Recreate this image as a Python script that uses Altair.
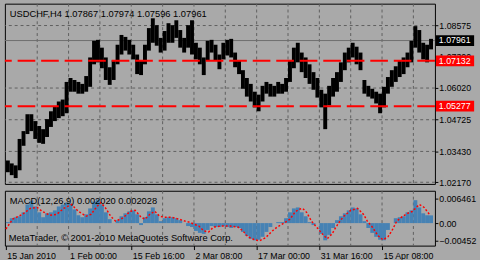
import altair as alt
import pandas as pd

BG = "#A9A9A9"
FONT = "Liberation Sans"
GRID = "#5E5E5E"

# ---- price data (4-bar groups of the H4 chart: high / low) ----
bin_width = 4
price_high = [1.0306, 1.0294, 1.0286, 1.0394, 1.0426, 1.0495, 1.0495, 1.0467, 1.0447, 1.0434,
              1.0475, 1.0507, 1.0527, 1.0547, 1.0555, 1.0627, 1.0643, 1.0635, 1.0627, 1.0619,
              1.0651, 1.0727, 1.0795, 1.0799, 1.0767, 1.0727, 1.0687, 1.0715, 1.0779, 1.0819,
              1.0811, 1.0799, 1.0779, 1.0739, 1.0715, 1.0779, 1.0847, 1.0887, 1.0859, 1.0807,
              1.0835, 1.0867, 1.0859, 1.0879, 1.0839, 1.0807, 1.0859, 1.0879, 1.0787, 1.0767,
              1.0727, 1.0795, 1.0799, 1.0779, 1.0739, 1.0787, 1.0799, 1.0803, 1.0747, 1.0715,
              1.0675, 1.0643, 1.0619, 1.0587, 1.0575, 1.0611, 1.0627, 1.0619, 1.0611, 1.0627,
              1.0619, 1.0643, 1.0715, 1.0767, 1.0787, 1.0747, 1.0727, 1.0699, 1.0667, 1.0643,
              1.0595, 1.0579, 1.0611, 1.0643, 1.0667, 1.0707, 1.0747, 1.0767, 1.0787, 1.0771,
              1.0747, 1.0635, 1.0611, 1.0599, 1.0587, 1.0579, 1.0607, 1.0647, 1.0675, 1.0691,
              1.0715, 1.0727, 1.0747, 1.0795, 1.0855, 1.0839, 1.0787, 1.0779, 1.0803]
price_low = [1.0258, 1.0246, 1.0234, 1.0266, 1.0366, 1.0414, 1.0426, 1.0394, 1.0378, 1.0374,
             1.0402, 1.0443, 1.0467, 1.0479, 1.0487, 1.0499, 1.0587, 1.0587, 1.0579, 1.0579,
             1.0587, 1.0607, 1.0699, 1.0707, 1.0683, 1.0635, 1.0615, 1.0635, 1.0699, 1.0739,
             1.0755, 1.0739, 1.0719, 1.0659, 1.0655, 1.0699, 1.0755, 1.0787, 1.0775, 1.0747,
             1.0755, 1.0787, 1.0787, 1.0807, 1.0767, 1.0747, 1.0767, 1.0739, 1.0719, 1.0699,
             1.0655, 1.0715, 1.0747, 1.0715, 1.0679, 1.0719, 1.0735, 1.0727, 1.0687, 1.0659,
             1.0599, 1.0567, 1.0547, 1.0523, 1.0507, 1.0547, 1.0579, 1.0567, 1.0567, 1.0579,
             1.0579, 1.0587, 1.0627, 1.0683, 1.0707, 1.0667, 1.0643, 1.0619, 1.0595, 1.0563,
             1.0523, 1.0434, 1.0531, 1.0567, 1.0587, 1.0627, 1.0675, 1.0707, 1.0727, 1.0699,
             1.0675, 1.0579, 1.0567, 1.0559, 1.0539, 1.0499, 1.0523, 1.0579, 1.0607, 1.0627,
             1.0647, 1.0659, 1.0687, 1.0707, 1.0767, 1.0747, 1.0719, 1.0707, 1.0760]

# ---- MACD(12,26,9) histogram per group ----
macd_hist = [0.00026, 0.00128, 0.00154, 0.00179, 0.00282, 0.00487, 0.00590, 0.00436, 0.00282, 0.00154,
             0.00256, 0.00282, 0.00333, 0.00436, 0.00487, 0.00538, 0.00513, 0.00359, 0.00205, 0.00154,
             0.00231, 0.00385, 0.00564, 0.00615, 0.00487, 0.00282, 0.00103, 0.00000, 0.00077, 0.00179,
             0.00256, 0.00308, 0.00333, 0.00231, -0.00051, 0.00154, 0.00308, 0.00410, 0.00231, 0.00051,
             0.00128, 0.00154, 0.00154, 0.00128, 0.00077, 0.00000, -0.00077, -0.00103, -0.00205, -0.00256,
             -0.00282, -0.00179, -0.00077, -0.00103, -0.00103, -0.00077, -0.00103, -0.00128, -0.00103, -0.00128,
             -0.00231, -0.00333, -0.00410, -0.00452, -0.00436, -0.00359, -0.00231, -0.00103, 0.00000, 0.00026,
             0.00026, 0.00128, 0.00282, 0.00385, 0.00410, 0.00282, 0.00179, 0.00026, -0.00051, 0.00000,
             -0.00282, -0.00450, -0.00308, -0.00128, 0.00077, 0.00179, 0.00256, 0.00333, 0.00410, 0.00385,
             0.00231, 0.00051, -0.00128, -0.00256, -0.00359, -0.00436, -0.00450, -0.00179, 0.00000, 0.00128,
             0.00154, 0.00179, 0.00282, 0.00333, 0.00600, 0.00410, 0.00256, 0.00205, 0.00202]
signal_bar = [0, 7, 17, 25, 32, 37, 45, 52, 59, 67, 74, 82, 87, 93, 97, 102, 107, 112, 119, 127,
              132, 138, 142, 147, 152, 157, 162, 169, 177, 183, 187, 192, 197, 202, 207, 212, 219, 229, 237, 242,
              247, 254, 259, 265, 272, 277, 284, 290, 295, 299, 303, 307, 312, 318, 323, 328, 333, 337, 341, 345,
              352, 359, 365, 369, 374, 380, 385, 390, 394, 399, 405, 410, 415, 422, 427, 433]
signal_value = [-0.00154, 0.00103, 0.00231, 0.00385, 0.00410, 0.00308, 0.00205, 0.00231, 0.00385, 0.00487,
                0.00308, 0.00179, 0.00231, 0.00436, 0.00538, 0.00385, 0.00179, 0.00051, 0.00128, 0.00308,
                0.00333, 0.00154, 0.00103, 0.00231, 0.00308, 0.00179, 0.00154, 0.00154, 0.00103, 0.00051,
                0.00026, -0.00026, -0.00077, -0.00205, -0.00231, -0.00103, -0.00077, -0.00077, -0.00103, -0.00205,
                -0.00359, -0.00436, -0.00462, -0.00385, -0.00205, -0.00103, 0.00000, 0.00103, 0.00282, 0.00359,
                0.00385, 0.00282, 0.00051, -0.00128, -0.00282, -0.00410, -0.00282, -0.00103, 0.00051, 0.00179,
                0.00333, 0.00385, 0.00231, 0.00051, -0.00103, -0.00333, -0.00436, -0.00359, -0.00205, 0.00051,
                0.00179, 0.00256, 0.00308, 0.00487, 0.00410, 0.00205]

price_ticks = [1.08575, 1.07300, 1.06020, 1.04725, 1.03430, 1.02170]
grid_prices = [1.08575, 1.06020, 1.04725, 1.03430, 1.02170]
red_levels = [1.07132, 1.05277]
bid_price = [1.07961]
macd_ticks = [0.006461, 0.0, -0.00452]
time_ticks = [0, 64, 128, 192, 256, 320, 384]
time_labels = ["15 Jan 2010", "1 Feb 00:00", "15 Feb 16:00", "2 Mar 08:00",
               "17 Mar 00:00", "31 Mar 16:00", "15 Apr 08:00"]
grid_bars = [32, 64, 96, 128, 160, 192, 224, 256, 288, 320, 352, 384, 416]
header = "USDCHF,H4  1.07867 1.07974 1.07596 1.07961"
macd_header = "MACD(12,26,9) 0.002020 0.002028"
copyright_text = "MetaTrader, \u00a9 2001-2010 MetaQuotes Software Corp."

bars = pd.DataFrame({
    "start": [bin_width * k for k in range(len(price_high))],
    "high": price_high,
    "low": price_low,
})
bars["end"] = bars["start"] + bin_width
hist = pd.DataFrame({"start": bars["start"], "end": bars["end"], "macd": macd_hist, "zero": 0.0})
sig = pd.DataFrame({"bar": signal_bar, "signal": signal_value})
vgrid = pd.DataFrame({"bar": grid_bars})
hgrid = pd.DataFrame({"price": grid_prices})
reds = pd.DataFrame({"price": red_levels, "label": [f"{v:.5f}" for v in red_levels]})
bid = pd.DataFrame({"price": bid_price, "label": [f"{v:.5f}" for v in bid_price]})

W = 439
H_MAIN = 184
H_MACD = 56
xscale = alt.Scale(domain=[-1, 438], nice=False, zero=False)
yscale = alt.Scale(domain=[1.02102, 1.09468], nice=False, zero=False)
mscale = alt.Scale(domain=[-0.005897, 0.008462], nice=False, zero=False)

label_map = "{" + ",".join(f"'{t}':'{l}'" for t, l in zip(time_ticks, time_labels)) + "}"

price_axis = alt.Axis(orient="right", values=price_ticks, format=".5f", grid=False, domain=False,
                      ticks=True, tickSize=3, tickColor="black", labelColor="black",
                      labelFont=FONT, labelFontSize=9, labelPadding=1, title=None)
time_axis = alt.Axis(orient="bottom", values=time_ticks, labelExpr=label_map + "[datum.value]",
                     grid=False, domain=False, ticks=True, tickSize=4, tickColor="black",
                     labelColor="black", labelFont=FONT, labelFontSize=9, labelAlign="left",
                     labelOffset=1, labelPadding=2, labelBaseline="top", title=None)
macd_axis = alt.Axis(orient="right", values=macd_ticks,
                     labelExpr="datum.value == 0 ? '0.00' : (datum.value > 0 ? format(datum.value, '.6f') : format(datum.value, '.5f'))",
                     grid=False, domain=False, ticks=True, tickSize=3, tickColor="black",
                     labelColor="black", labelFont=FONT, labelFontSize=9, labelPadding=1, title=None)

# ---------------- main price panel ----------------
vg_main = alt.Chart(vgrid).mark_rule(color=GRID, strokeDash=[3, 3], strokeWidth=1).encode(
    x=alt.X("bar:Q", scale=xscale, axis=None))
hg_main = alt.Chart(hgrid).mark_rule(color=GRID, strokeDash=[3, 3], strokeWidth=1).encode(
    y=alt.Y("price:Q", scale=yscale, axis=price_axis))
bid_line = alt.Chart(bid).mark_rule(color="#6E6E6E", strokeWidth=1).encode(
    y=alt.Y("price:Q", scale=yscale, axis=price_axis))
price_bars = alt.Chart(bars).mark_rect(color="black").encode(
    x=alt.X("start:Q", scale=xscale, axis=None),
    x2="end:Q",
    y=alt.Y("high:Q", scale=yscale, axis=price_axis),
    y2="low:Q",
)
red_lines = alt.Chart(reds).mark_rule(color="#FF0000", strokeDash=[18, 6], strokeWidth=2).encode(
    y=alt.Y("price:Q", scale=yscale, axis=price_axis))
red_box = alt.Chart(reds).mark_rule(color="#FF0000", strokeWidth=11, strokeCap="butt").encode(
    x=alt.value(440), x2=alt.value(479), y=alt.Y("price:Q", scale=yscale, axis=price_axis))
red_text = alt.Chart(reds).mark_text(color="white", align="left", baseline="middle",
                                     font=FONT, fontSize=9).encode(
    x=alt.value(443), y=alt.Y("price:Q", scale=yscale, axis=price_axis), text="label:N")
bid_box = alt.Chart(bid).mark_rule(color="black", strokeWidth=11, strokeCap="butt").encode(
    x=alt.value(440), x2=alt.value(479), y=alt.Y("price:Q", scale=yscale, axis=price_axis))
bid_text = alt.Chart(bid).mark_text(color="white", align="left", baseline="middle",
                                    font=FONT, fontSize=9).encode(
    x=alt.value(443), y=alt.Y("price:Q", scale=yscale, axis=price_axis), text="label:N")
head = alt.Chart(pd.DataFrame({"t": [header]})).mark_text(
    align="left", baseline="alphabetic", font=FONT, fontSize=9.5, color="black").encode(
    x=alt.value(5), y=alt.value(14), text="t:N")

main = alt.layer(vg_main, hg_main, bid_line, price_bars, red_lines, red_box, red_text,
                 bid_box, bid_text, head).properties(width=W, height=H_MAIN)

# ---------------- MACD panel ----------------
vg_macd = alt.Chart(vgrid).mark_rule(color=GRID, strokeDash=[3, 3], strokeWidth=1).encode(
    x=alt.X("bar:Q", scale=xscale, axis=time_axis))
hist_bars = alt.Chart(hist).mark_rect(color="#4682B4").encode(
    x=alt.X("start:Q", scale=xscale, axis=time_axis),
    x2="end:Q",
    y=alt.Y("macd:Q", scale=mscale, axis=macd_axis),
    y2="zero:Q",
)
sig_line = alt.Chart(sig).mark_line(color="#FF0000", strokeDash=[2, 2], strokeWidth=1.5).encode(
    x=alt.X("bar:Q", scale=xscale, axis=time_axis),
    y=alt.Y("signal:Q", scale=mscale, axis=macd_axis))
macd_head = alt.Chart(pd.DataFrame({"t": [macd_header]})).mark_text(
    align="left", baseline="alphabetic", font=FONT, fontSize=9.5, color="black").encode(
    x=alt.value(5), y=alt.value(13.5), text="t:N")
copy_text = alt.Chart(pd.DataFrame({"t": [copyright_text]})).mark_text(
    align="left", baseline="alphabetic", font=FONT, fontSize=9.5, color="black").encode(
    x=alt.value(4), y=alt.value(51), text="t:N")

macd = alt.layer(vg_macd, hist_bars, sig_line, macd_head, copy_text).properties(width=W, height=H_MACD)

chart = alt.vconcat(main, macd, spacing=2).properties(
    background=BG,
    padding={"left": 2, "top": 0, "right": 0, "bottom": 0},
).configure_view(stroke="black", strokeWidth=1).configure_concat(spacing=2)

chart.save("out.html", embed_options={"renderer": "svg", "actions": False})
